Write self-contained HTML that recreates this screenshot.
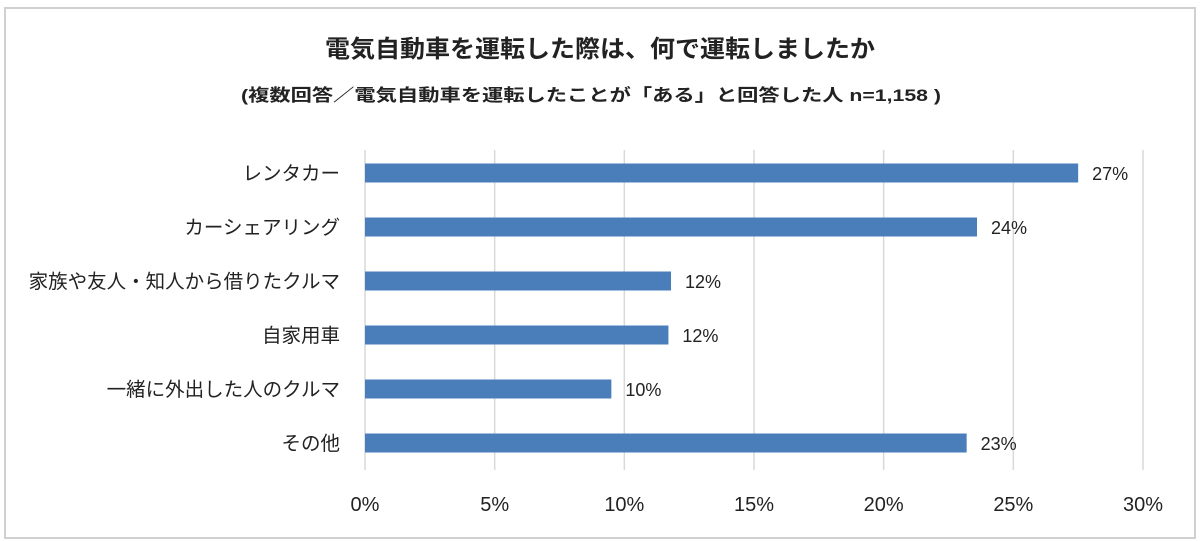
<!DOCTYPE html>
<html><head><meta charset="utf-8"><style>
html,body{margin:0;padding:0;background:#fff;width:1200px;height:541px;overflow:hidden}
svg{display:block}
text{font-family:"Liberation Sans","Noto Sans CJK JP",sans-serif;fill:#222}
</style></head><body>
<svg id="chart" width="1200" height="541" viewBox="0 0 1200 541">
<rect x="5" y="8" width="1190" height="530" fill="#fff" stroke="#d0d0d0" stroke-width="2"/>
<text x="600" y="57" text-anchor="middle" font-size="24" font-weight="bold" textLength="550" lengthAdjust="spacingAndGlyphs">電気自動車を運転した際は、何で運転しましたか</text>
<text x="591" y="101" text-anchor="middle" font-size="17" font-weight="bold" textLength="700" lengthAdjust="spacingAndGlyphs">(複数回答／電気自動車を運転したことが「ある」と回答した人 n=1,158 )</text>
<g id="grid"></g>
<g id="bars"></g>
<g id="labels"></g>
<g id="ticks"></g>
</svg>
<script>
const categories = ["レンタカー","カーシェアリング","家族や友人・知人から借りたクルマ","自家用車","一緒に外出した人のクルマ","その他"];
const values = [27.5, 23.6, 11.8, 11.7, 9.5, 23.2];
const valueLabels = ["27%","24%","12%","12%","10%","23%"];
const tickValues = [0,5,10,15,20,25,30];
const tickLabels = ["0%","5%","10%","15%","20%","25%","30%"];

const NS="http://www.w3.org/2000/svg";
const x0=365, x1=1143, maxV=30;
const xScale=v=>x0+(x1-x0)*v/maxV;
const yTop=155, band=54;
const yCenter=i=>yTop+band*i+18;
function mk(tag,attrs,parent,txt){const e=document.createElementNS(NS,tag);for(const k in attrs)e.setAttribute(k,attrs[k]);if(txt!==undefined)e.textContent=txt;parent.appendChild(e);return e;}
const grid=document.getElementById('grid'),bars=document.getElementById('bars'),labels=document.getElementById('labels'),ticks=document.getElementById('ticks');
tickValues.forEach((t,i)=>{
  const l=mk('line',{x1:xScale(t),x2:xScale(t),y1:150,y2:470,stroke:'#d9d9d9','stroke-width':1.5},grid);
  
  
  const tx=mk('text',{x:xScale(t),y:511,'text-anchor':'middle','font-size':20},ticks,tickLabels[i]);
  
  
});
categories.forEach((c,i)=>{
  const yc=yCenter(i);
  const r=mk('rect',{x:x0,y:yc-9.5,width:xScale(values[i])-x0,height:19,fill:'#4a7ebb'},bars);
  
  
  const v=mk('text',{x:xScale(values[i])+14,y:yc+7,'font-size':18},bars,valueLabels[i]);
  
  
  const t=mk('text',{x:340,y:yc+7,'text-anchor':'end','font-size':19.5},labels,c);
  
  
});
</script>
</body></html>
